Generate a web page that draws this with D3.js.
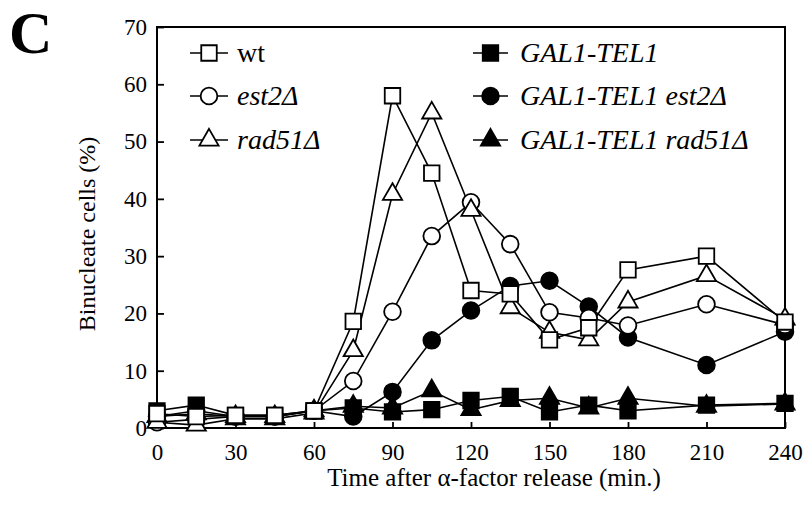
<!DOCTYPE html>
<html>
<head>
<meta charset="utf-8">
<script src="https://cdn.jsdelivr.net/npm/d3@7"></script>
<style>
  body { margin: 0; background: #fff; }
  text { font-family: "Liberation Serif", "Times New Roman", serif; fill: #000; }
</style>
</head>
<body>
<svg id="chart" width="806" height="511"></svg>
<script>
// time points (min after alpha-factor release)
var times = [0, 15, 30, 45, 60, 75, 90, 105, 120, 135, 150, 165, 180, 210, 240];

// binucleate cells (%) per strain
var wt           = [2.5, 2, 2.2, 2.2, 3, 18.6, 58, 44.5, 24, 23.4, 15.4, 17.5, 27.6, 30, 18.5];
var est2         = [1, 1.5, 2, 2, 3, 8.2, 20.3, 33.5, 39.4, 32.1, 20.2, 19.2, 17.9, 21.6, 18];
var rad51        = [1, 0.5, 1.6, 1.6, 2.6, 13.5, 40.8, 55, 38, 21, 16.7, 15.4, 22, 26.6, 19];
var galTel1      = [3, 4, 2.2, 2.2, 3, 3.5, 2.8, 3.2, 4.8, 5.5, 2.8, 4, 3, 4, 4.3];
var galTel1Est2  = [2, 3, 2, 2, 3, 2, 6.3, 15.3, 20.5, 24.8, 25.7, 21.2, 15.8, 11, 16.8];
var galTel1Rad51 = [2, 2.5, 2, 2, 3, 3.8, 3.5, 6.5, 3.2, 4.8, 5.2, 3.5, 5.2, 3.8, 4.2];

var xTicks = [0, 30, 60, 90, 120, 150, 180, 210, 240];
var yTicks = [0, 10, 20, 30, 40, 50, 60, 70];

var series = [
    {name: "GAL1-TEL1", values: galTel1, shape: "square", filled: true, italic: true},
    {name: "GAL1-TEL1 rad51\u0394", values: galTel1Rad51, shape: "triangle", filled: true, italic: true},
    {name: "GAL1-TEL1 est2\u0394", values: galTel1Est2, shape: "circle", filled: true, italic: true},
    {name: "est2\u0394", values: est2, shape: "circle", filled: false, italic: true},
    {name: "rad51\u0394", values: rad51, shape: "triangle", filled: false, italic: true},
    {name: "wt", values: wt, shape: "square", filled: false, italic: false}
];

// legend order: left column then right column
var legendLeft = ["wt", "est2\u0394", "rad51\u0394"];
var legendRight = ["GAL1-TEL1", "GAL1-TEL1 est2\u0394", "GAL1-TEL1 rad51\u0394"];

var svg = d3.select("#chart");

var x = d3.scaleLinear().domain([0, 240]).range([157, 785]);
var y = d3.scaleLinear().domain([0, 70]).range([428, 27]);

var symbolType = {
    square: d3.symbolSquare,
    circle: d3.symbolCircle,
    triangle: d3.symbolTriangle
};
var symbolSize = {square: 240, circle: 220, triangle: 160};

function drawSymbol(sel, s) {
    sel.attr("d", d3.symbol().type(symbolType[s.shape]).size(symbolSize[s.shape])())
        .attr("fill", s.filled ? "#000" : "#fff")
        .attr("stroke", "#000")
        .attr("stroke-width", 1.8);
}

// axes (ticks point inward)
var yAxis = d3.axisLeft(y).tickValues(yTicks).tickSizeInner(-7).tickSizeOuter(0).tickPadding(10);
var xAxis = d3.axisBottom(x).tickValues(xTicks).tickSizeInner(-6).tickSizeOuter(0).tickPadding(16);

var gy = svg.append("g").attr("transform", "translate(157,0)").call(yAxis);
var gx = svg.append("g").attr("transform", "translate(0,428)").call(xAxis);
[gx, gy].forEach(function(g) {
    g.select(".domain").remove();
    g.selectAll(".tick line").attr("stroke", "#000").attr("stroke-width", 1.8);
    g.selectAll(".tick text").style("font-size", "23px").attr("fill", "#000");
});

// frame
svg.append("rect")
    .attr("x", x(0)).attr("y", y(70))
    .attr("width", x(240) - x(0)).attr("height", y(0) - y(70))
    .attr("fill", "none").attr("stroke", "#000").attr("stroke-width", 2);

// lines
var line = d3.line()
    .x(function(d, i) { return x(times[i]); })
    .y(function(d) { return y(d); });

svg.append("g").selectAll("path")
    .data(series)
    .enter().append("path")
    .attr("d", function(d) { return line(d.values); })
    .attr("fill", "none")
    .attr("stroke", "#000")
    .attr("stroke-width", 1.6);

// markers
series.forEach(function(s) {
    svg.append("g").selectAll("path")
        .data(s.values)
        .enter().append("path")
        .attr("transform", function(d, i) { return "translate(" + x(times[i]) + "," + y(d) + ")"; })
        .call(drawSymbol, s);
});

// legend
function legendColumn(names, lineX0, lineX1, textX) {
    names.forEach(function(name, i) {
        var s = series.find(function(d) { return d.name === name; });
        var cy = [53, 96, 140][i];
        svg.append("line")
            .attr("x1", lineX0).attr("x2", lineX1)
            .attr("y1", cy).attr("y2", cy)
            .attr("stroke", "#000").attr("stroke-width", 1.6);
        svg.append("path")
            .attr("transform", "translate(" + (lineX0 + lineX1) / 2 + "," + cy + ")")
            .call(drawSymbol, s);
        svg.append("text")
            .attr("x", textX).attr("y", cy + 9)
            .style("font-size", "28px")
            .style("font-style", s.italic ? "italic" : "normal")
            .text(name);
    });
}
legendColumn(legendLeft, 190, 228, 237);
legendColumn(legendRight, 473, 508, 520);

// axis titles
svg.append("text")
    .attr("transform", "translate(95,234) rotate(-90)")
    .attr("text-anchor", "middle")
    .style("font-size", "24px")
    .text("Binucleate cells (%)");

svg.append("text")
    .attr("x", 494).attr("y", 486)
    .attr("text-anchor", "middle")
    .style("font-size", "25px")
    .text("Time after \u03b1-factor release (min.)");

// panel letter
svg.append("text")
    .attr("x", 9).attr("y", 53)
    .style("font-size", "60px")
    .style("font-weight", "bold")
    .text("C");
</script>
</body>
</html>
